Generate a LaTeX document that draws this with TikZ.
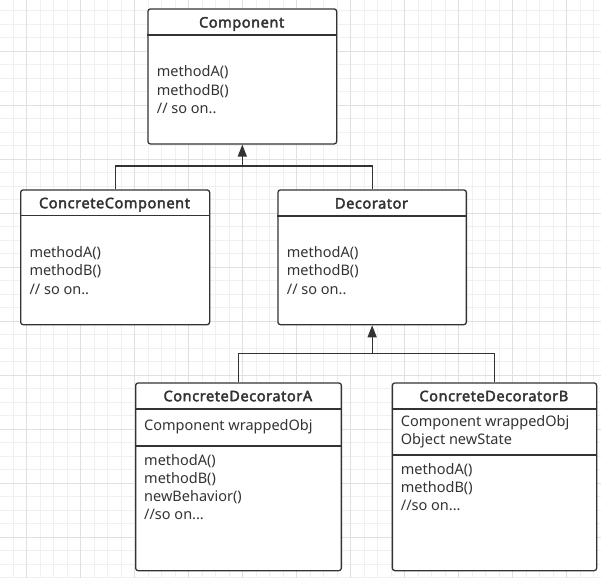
\documentclass[tikz,border=0pt]{standalone}
\usepackage{fontspec}
\setmainfont{Noto Sans}
\newfontfamily\headfont{Noto Sans}[FakeBold=2.6, LetterSpace=4]
\usetikzlibrary{arrows.meta}
\definecolor{ink}{HTML}{333333}
\definecolor{gridminor}{HTML}{F0F0F0}
\definecolor{gridmajor}{HTML}{E0E0E0}

\begin{document}
\begin{tikzpicture}[x=1pt,y=-1pt,
  minorline/.style={draw=gridminor, line width=0.8pt},
  majorline/.style={draw=gridmajor, line width=0.8pt},
  classbox/.style={draw=ink, line width=1.3pt, rounded corners=2.5pt, fill=white,
    inner sep=0pt, anchor=north west},
  divider/.style={draw=ink, line width=1.3pt},
  title/.style={font=\headfont\fontsize{14.5}{17}\selectfont, text=ink, inner sep=0pt, anchor=base},
  member/.style={font=\fontsize{14.5}{18}\selectfont, text=ink, inner sep=0pt, anchor=base west},
  link/.style={draw=ink, line width=1.3pt},
  inherit/.style={link, -{Triangle[width=9pt,length=12pt]}}]

\useasboundingbox (0,0) rectangle (601,578);
\fill[white] (0,0) rectangle (601,578);

% background grid
\begin{scope}
  \clip (0,0) rectangle (601,578);
  \foreach \k in {0,...,45} \draw[minorline] ({-0.3+13.5*\k},0) -- ++(0,578);
  \foreach \k in {0,...,43} \draw[minorline] (0,{-2.7+13.5*\k}) -- ++(601,0);
  \foreach \k in {0,...,11} \draw[majorline] ({26.7+54*\k},0) -- ++(0,578);
  \foreach \k in {0,...,11} \draw[majorline] (0,{-2.7+54*\k}) -- ++(601,0);
\end{scope}

% Component
\node[classbox, minimum width=188.7pt, minimum height=135pt] (comp) at (147.3,8.3) {};
\draw[divider] (147.3,35) -- (336,35);
\node[title] (compT) at (241.65,27.5) {Component};
\node[member] (compM1) at (156.7,76.7) {methodA()};
\node[member] (compM2) at (156.7,95) {methodB()};
\node[member] (compM3) at (156.7,113.3) {// so on..};

% ConcreteComponent
\node[classbox, minimum width=189pt, minimum height=134.7pt] (cc) at (20,189.3) {};
\draw[divider] (20,215.7) -- (209,215.7);
\node[title] (ccT) at (114.5,208.2) {ConcreteComponent};
\node[member] (ccM1) at (29.3,257.7) {methodA()};
\node[member] (ccM2) at (29.3,275.7) {methodB()};
\node[member] (ccM3) at (29.3,294.3) {// so on..};

% Decorator
\node[classbox, minimum width=188.4pt, minimum height=134.7pt] (dec) at (277.3,189.3) {};
\draw[divider] (277.3,216) -- (465.7,216);
\node[title] (decT) at (371.5,208.5) {Decorator};
\node[member] (decM1) at (286.7,257.7) {methodA()};
\node[member] (decM2) at (286.7,275.7) {methodB()};
\node[member] (decM3) at (286.7,294) {// so on..};

% ConcreteDecoratorA
\node[classbox, minimum width=205.7pt, minimum height=187.7pt] (cda) at (135,382.3) {};
\draw[divider] (135,409) -- (340.7,409);
\draw[divider] (135,446) -- (340.7,446);
\node[title] (cdaT) at (237.85,401.2) {ConcreteDecoratorA};
\node[member] (cdaF1) at (144,430.7) {Component wrappedObj};
\node[member] (cdaM1) at (144,465) {methodA()};
\node[member] (cdaM2) at (144,483.3) {methodB()};
\node[member] (cdaM3) at (144,501.7) {newBehavior()};
\node[member] (cdaM4) at (144,519.7) {//so on...};

% ConcreteDecoratorB
\node[classbox, minimum width=204.3pt, minimum height=187.7pt] (cdb) at (391.7,382.3) {};
\draw[divider] (391.7,409) -- (596,409);
\draw[divider] (391.7,455) -- (596,455);
\node[title] (cdbT) at (493.85,401.2) {ConcreteDecoratorB};
\node[member] (cdbF1) at (400.7,426.7) {Component wrappedObj};
\node[member] (cdbF2) at (400.7,444.3) {Object newState};
\node[member] (cdbM1) at (400.7,474.3) {methodA()};
\node[member] (cdbM2) at (400.7,492.3) {methodB()};
\node[member] (cdbM3) at (400.7,510) {//so on...};

% generalization connectors
\coordinate (j1) at (comp.south |- 0,166);
\draw[link] (cc.north) |- (j1) -| (dec.north);
\draw[inherit] (j1) -- (comp.south);

\coordinate (j2) at (dec.south |- 0,353.3);
\draw[link] (cda.north) |- (j2) -| (cdb.north);
\draw[inherit] (j2) -- (dec.south);
\end{tikzpicture}
\end{document}
